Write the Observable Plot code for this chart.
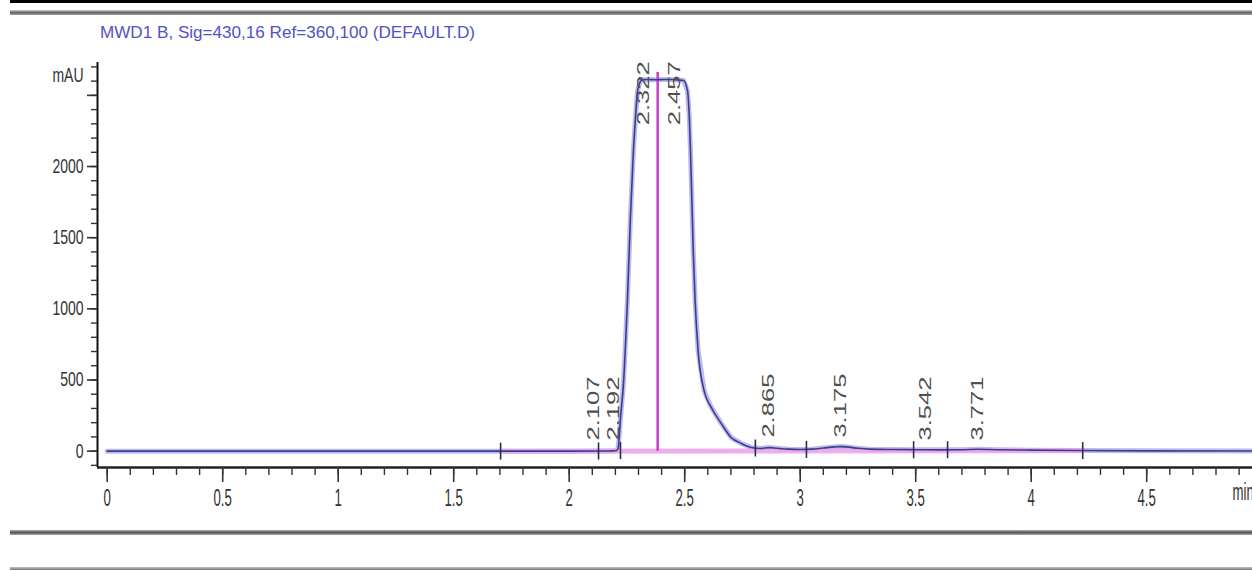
<!DOCTYPE html>
<html><head><meta charset="utf-8">
<script src="https://cdn.jsdelivr.net/npm/d3@7"></script>
<script src="https://cdn.jsdelivr.net/npm/@observablehq/plot@0.6"></script>
<style>
body{margin:0;background:#fff;}
#wrap{position:relative;width:1252px;height:571px;overflow:hidden;background:#fff;font-family:"Liberation Sans",Arial,sans-serif;}
#title{position:absolute;left:100px;top:23px;font-size:17px;line-height:20px;color:#5252c4;white-space:nowrap;transform-origin:0 50%;}
.bar{position:absolute;left:10px;right:0;}
#plot{position:absolute;left:0;top:45px;}
</style></head><body>
<div id="wrap">
  <div class="bar" style="top:0;height:3px;background:#000"></div>
  <div class="bar" style="top:10px;height:5px;background:linear-gradient(#d0d0d0,#666,#a0a0a0)"></div>
  <div id="title"></div>
  <div id="plot"></div>
  <div class="bar" style="top:530px;height:5px;background:linear-gradient(#b0b0b0,#555,#a8a8a8)"></div>
  <div class="bar" style="top:567px;height:3px;background:linear-gradient(#c0c0c0,#777)"></div>
</div>
<script>
// ---- data ----
const titleText = "MWD1 B, Sig=430,16 Ref=360,100 (DEFAULT.D)";
const yUnit = "mAU";
const xUnit = "min";

const traceTime = [0, 1.0, 2.0, 2.15, 2.19, 2.205, 2.212, 2.222, 2.235, 2.252, 2.265, 2.278, 2.287, 2.296, 2.306, 2.317,
  2.34, 2.375, 2.41, 2.44, 2.47, 2.495, 2.512, 2.52, 2.525, 2.537, 2.545, 2.558, 2.584, 2.615, 2.658, 2.701, 2.745,
  2.788, 2.831, 2.865, 2.9, 2.95, 3.0, 3.05, 3.1, 3.15, 3.175, 3.2, 3.25, 3.3, 3.4, 3.5, 3.6, 3.7, 3.771, 3.85,
  4.0, 4.2, 4.5, 4.958];
const traceSignal = [0, 0, 0, 1, 2, 4, 20, 230, 476, 1059, 1642, 2112, 2343, 2533, 2590, 2610,
  2612, 2610, 2612, 2612, 2608, 2605, 2533, 2343, 2112, 1409, 1059, 706, 425, 307, 195, 96, 54,
  26, 19, 25, 20, 14, 12, 14, 22, 30, 32, 30, 20, 14, 11, 10, 9, 10, 13, 10,
  7, 4, 2, 1];

const rtValues = [2.107, 2.192, 2.322, 2.457, 2.865, 3.175, 3.542, 3.771];
const rtLabelBase = [75, 75, 2290, 2290, 95, 95, 75, 75];

const eventTime = [1.703, 2.127, 2.222, 2.806, 3.027, 3.491, 3.638, 4.223];
const eventSignal = [0, 1, 4, 22, 12, 10, 10, 4];

const integTime = [1.703, 4.223];
const integSignal = [0, 3];

const apexTime = [2.383];
const apexTop = [2660];

const xMajor = [0, 0.5, 1, 1.5, 2, 2.5, 3, 3.5, 4, 4.5];
const xMajorLabels = ["0", "0.5", "1", "1.5", "2", "2.5", "3", "3.5", "4", "4.5"];
const xMinor = d3.range(0, 4.95, 0.1).map(v => +v.toFixed(1));
const yMajor = [0, 500, 1000, 1500, 2000, 2500];
const yMajorLabels = ["0", "500", "1000", "1500", "2000", ""];
const yMinor = d3.range(-100, 2800, 100);

const xDomain = [-0.042, 4.958];
const yDomain = [-115, 2731];

// ---- build ----
const trace = traceTime.map((t, i) => ({t, s: traceSignal[i]}));
const integ = integTime.map((t, i) => ({t, s: integSignal[i]}));
const rts = rtValues.map((t, i) => ({t, base: rtLabelBase[i]}));
const events = eventTime.map((t, i) => ({t, s: eventSignal[i]}));
const apex = apexTime.map((t, i) => ({t, top: apexTop[i]}));

const vbar = {draw(ctx, size) { const r = Math.sqrt(size / Math.PI); ctx.moveTo(0, -r); ctx.lineTo(0, r); }};

const chart = Plot.plot({
  width: 1252, height: 526,
  marginTop: 17, marginBottom: 104, marginLeft: 97, marginRight: 0,
  x: {domain: xDomain, axis: null},
  y: {domain: yDomain, axis: null},
  style: {background: "transparent", fontFamily: "'Liberation Sans', Arial, sans-serif", overflow: "visible"},
  marks: [
    Plot.line(trace, {x: "t", y: "s", stroke: "#bcbcee", strokeWidth: 5}),
    Plot.line(integ, {x: "t", y: "s", stroke: "#eaa6ea", strokeWidth: 5, strokeOpacity: 0.9}),
    Plot.ruleX(apex, {x: "t", y1: 0, y2: "top", stroke: "#c83cc8", strokeWidth: 2.5}),
    Plot.line(trace, {x: "t", y: "s", stroke: "#3d3d90", strokeWidth: 1.6, curve: "monotone-x"}),
    Plot.dot(events, {x: "t", y: "s", symbol: vbar, r: 8.5, fill: "none", stroke: "#2b2b55", strokeWidth: 1.6}),
    Plot.text(rts, {x: "t", y: "base", text: d => d.t.toFixed(3), rotate: -90, textAnchor: "start", lineAnchor: "middle", fontSize: 16, fill: "#505050"}),
    Plot.ruleX([xDomain[0]], {stroke: "#111", strokeWidth: 2}),
    Plot.ruleY([yDomain[0]], {stroke: "#222", strokeWidth: 2.5}),
    Plot.axisY({ticks: yMajor, tickSize: 10, tickPadding: 4, label: null, tickFormat: d => yMajorLabels[yMajor.indexOf(d)], fontSize: 20, color: "#333", strokeWidth: 1.6}),
    Plot.axisY({ticks: yMinor, tickSize: 6, label: null, tickFormat: () => "", color: "#333", strokeWidth: 1.4}),
    Plot.axisX({ticks: xMajor, tickSize: 15, tickPadding: 6, label: null, tickFormat: d => xMajorLabels[xMajor.indexOf(d)], fontSize: 24, color: "#333", strokeWidth: 1.6}),
    Plot.axisX({ticks: xMinor, tickSize: 8, label: null, tickFormat: () => "", color: "#333", strokeWidth: 1.4}),
    Plot.text([yUnit], {frameAnchor: "top-left", textAnchor: "end", dx: -14, dy: 5, fontSize: 20, fill: "#333"}),
    Plot.text([xUnit], {frameAnchor: "bottom-right", textAnchor: "start", dx: -20, dy: 32, fontSize: 24, fill: "#333"})
  ]
});
document.getElementById("plot").appendChild(chart);

// condense horizontal text, elongate rotated labels (matches the squeezed look of the source)
d3.select(chart).selectAll("text").each(function() {
  const t = this.getAttribute("transform");
  const rotated = t && t.includes("rotate");
  const big = +(this.closest("[font-size]")?.getAttribute("font-size") || 0) >= 24;
  const sx = rotated ? 1.6 : (big ? 0.55 : 0.7);
  if (t) {
    this.setAttribute("transform", t + ` scale(${sx},1)`);
  } else {
    const x = parseFloat(this.getAttribute("x") || 0);
    const y = this.getAttribute("y");
    const yn = y != null && !/em/.test(y) ? parseFloat(y) : 0;
    this.removeAttribute("x");
    if (y != null && !/em/.test(y)) this.removeAttribute("y");
    this.setAttribute("transform", `translate(${x},${yn}) scale(${sx},1)`);
  }
});

const titleEl = document.getElementById("title");
titleEl.textContent = titleText;
const tw = titleEl.getBoundingClientRect().width;
titleEl.style.transform = `scaleX(${375 / tw})`;
</script>
</body></html>
